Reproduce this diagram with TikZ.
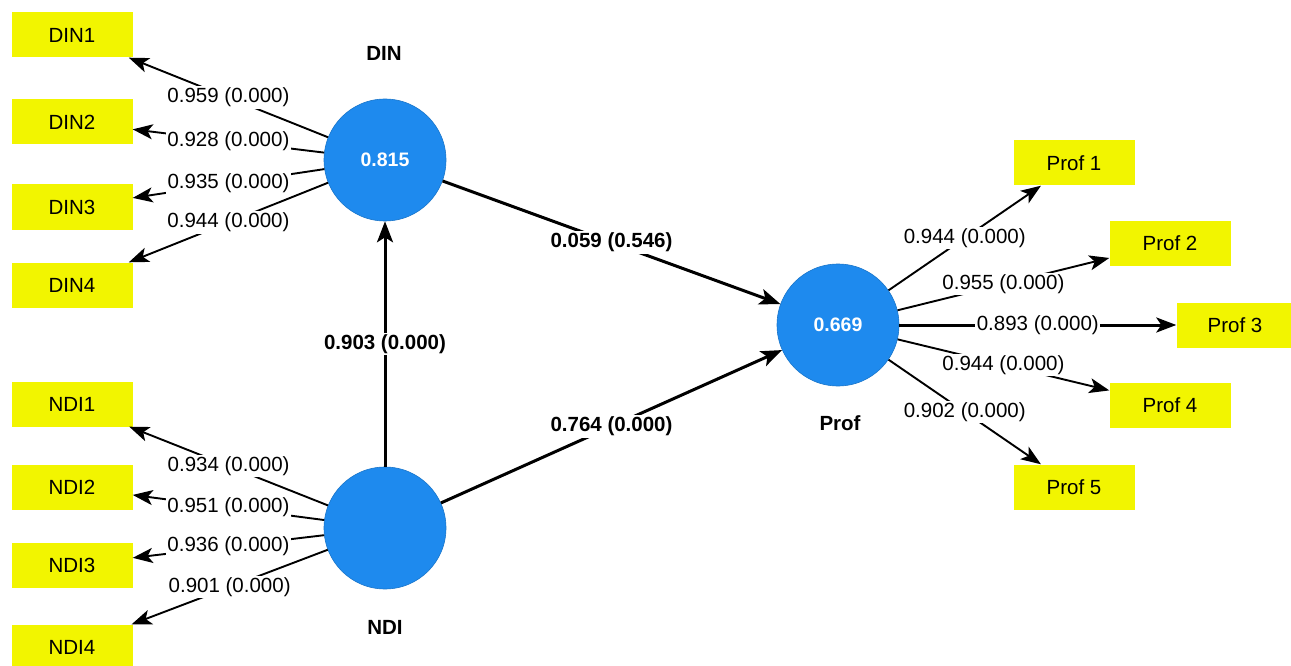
\documentclass[tikz,border=0pt]{standalone}
\usepackage{fontspec}
\setmainfont{Liberation Sans}
\usetikzlibrary{arrows.meta}
\definecolor{lvblue}{RGB}{30,138,238}
\definecolor{mvyellow}{RGB}{242,245,0}
\tikzset{
  lv/.style={circle, fill=lvblue, draw=lvblue!85!black, line width=0.6pt, minimum size=122pt, inner sep=0pt, text=white, font=\fontsize{19.5}{22}\selectfont\bfseries},
  mv/.style={rectangle, fill=mvyellow, minimum width=121pt, minimum height=45pt, inner sep=0pt, font=\fontsize{20.5}{22}\selectfont},
  lvname/.style={font=\fontsize{20.5}{22}\selectfont\bfseries},
  load/.style={line width=1.9pt, -{Stealth[length=20pt,width=15pt,inset=5pt]}},
  strc/.style={line width=3pt, -{Stealth[length=21pt,width=16pt,inset=5pt]}},
  llab/.style={fill=white, inner sep=1.5pt, font=\fontsize{20.5}{22}\selectfont},
  slab/.style={fill=white, inner sep=1.5pt, font=\fontsize{20.5}{22}\selectfont\bfseries},
}
\begin{document}
\begin{tikzpicture}[x=1pt,y=-1pt]
\useasboundingbox (0,0) rectangle (1291,666);
\clip (0,0) rectangle (1291,666);
% latent variables
\node[lv] (din) at (385,160) {0.815};
\node[lv] (ndi) at (385,528) {};
\node[lv] (prof) at (838,325) {0.669};
\node[lvname] (dinl) at (384,53) {DIN};
\node[lvname] (ndil) at (385,627) {NDI};
\node[lvname] (profl) at (840,423) {Prof};
% indicators
\node[mv] (din1) at (72,35) {DIN1};
\node[mv] (din2) at (72,122) {DIN2};
\node[mv] (din3) at (72,207) {DIN3};
\node[mv] (din4) at (72,285) {DIN4};
\node[mv] (ndi1) at (72,404) {NDI1};
\node[mv] (ndi2) at (72,487) {NDI2};
\node[mv] (ndi3) at (72,565) {NDI3};
\node[mv] (ndi4) at (72,647) {NDI4};
\node[mv] (prof1) at (1074,163) {Prof 1};
\node[mv] (prof2) at (1170,243) {Prof 2};
\node[mv, minimum width=117pt] (prof3) at (1235,325) {Prof 3};
\node[mv] (prof4) at (1170,405) {Prof 4};
\node[mv] (prof5) at (1074,487) {Prof 5};
% loadings
\draw[load] (din) -- node[llab] {0.959 (0.000)} (din1);
\draw[load] (din) -- node[llab] {0.928 (0.000)} (din2);
\draw[load] (din) -- node[llab] {0.935 (0.000)} (din3);
\draw[load] (din) -- node[llab] {0.944 (0.000)} (din4);
\draw[load] (ndi) -- node[llab] {0.934 (0.000)} (ndi1);
\draw[load] (ndi) -- node[llab] {0.951 (0.000)} (ndi2);
\draw[load] (ndi) -- node[llab] {0.936 (0.000)} (ndi3);
\draw[load] (ndi) -- node[llab] {0.901 (0.000)} (ndi4);
\draw[load] (prof) -- node[llab] {0.944 (0.000)} (prof1);
\draw[load] (prof) -- node[llab] {0.955 (0.000)} (prof2);
\draw[load, line width=3pt] (prof) -- node[llab] {0.893 (0.000)} (prof3);
\draw[load] (prof) -- node[llab] {0.944 (0.000)} (prof4);
\draw[load] (prof) -- node[llab] {0.902 (0.000)} (prof5);
% structural paths
\draw[strc] (ndi) -- node[slab] {0.903 (0.000)} (din);
\draw[strc] (din) -- node[slab] {0.059 (0.546)} (prof);
\draw[strc] (ndi) -- node[slab] {0.764 (0.000)} (prof);
\end{tikzpicture}
\end{document}
